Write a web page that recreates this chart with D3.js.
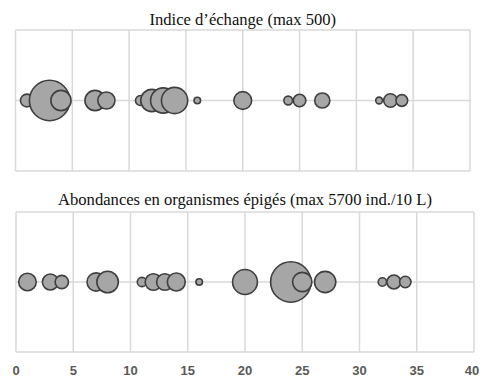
<!DOCTYPE html>
<html>
<head>
<meta charset="utf-8">
<script src="https://cdn.jsdelivr.net/npm/d3@7"></script>
<style>
  body { margin: 0; background: #fff; }
  .grid { stroke: #d9d9d9; stroke-width: 1.5; fill: none; }
  .bubble { fill: #a6a6a6; stroke: #3f3f3f; stroke-width: 1.6; }
  .title { font-family: "Liberation Serif", serif; font-size: 16.6px; fill: #111; }
  .tick-label { font-family: "Liberation Sans", Arial, sans-serif; font-weight: bold; font-size: 13px; fill: #595959; }
</style>
</head>
<body>
<svg id="chart" width="485" height="378"></svg>
<script>
// Data
const positions = [1, 3, 4, 7, 8, 11, 12, 13, 14, 16, 20, 24, 25, 27, 32, 33, 34];
const echangeValues = [50, 500, 125, 125, 90, 31, 151, 195, 211, 13, 97, 23, 48, 70, 14, 56, 42];
const abondanceValues = [1070, 885, 620, 1170, 1610, 305, 950, 950, 1120, 150, 2160, 5700, 1300, 1580, 245, 680, 450];
const xTicks = [0, 5, 10, 15, 20, 25, 30, 35, 40];

const svg = d3.select("#chart");

const panels = [
    { title: "Indice d\u2019échange (max 500)", values: echangeValues, max: 500,
      left: 15.5, right: 470, top: 30, bottom: 171, titleY: 25 },
    { title: "Abondances en organismes épigés (max 5700 ind./10 L)", values: abondanceValues, max: 5700,
      left: 16, right: 474, top: 212, bottom: 352, titleY: 205 }
];

panels.forEach(p => {
    const x = d3.scaleLinear().domain([0, 40]).range([p.left, p.right]);
    const y = d3.scaleLinear().domain([-1, 1]).range([p.bottom, p.top]);
    const r = d3.scaleSqrt().domain([0, p.max]).range([0, 20.2]);
    const g = svg.append("g");

    // vertical gridlines
    g.selectAll(".vgrid")
        .data(xTicks)
        .join("line")
        .attr("class", "grid")
        .attr("x1", d => x(d)).attr("x2", d => x(d))
        .attr("y1", p.top).attr("y2", p.bottom);

    // horizontal gridlines (top, middle, bottom)
    g.selectAll(".hgrid")
        .data([-1, 0, 1])
        .join("line")
        .attr("class", "grid")
        .attr("x1", p.left).attr("x2", p.right)
        .attr("y1", d => y(d)).attr("y2", d => y(d));

    // bubbles
    g.selectAll(".bubble")
        .data(positions.map((pos, i) => ({ pos, v: p.values[i] })))
        .join("circle")
        .attr("class", "bubble")
        .attr("cx", d => x(d.pos))
        .attr("cy", y(0))
        .attr("r", d => r(d.v));

    // title
    svg.append("text")
        .attr("class", "title")
        .attr("x", (p.left + p.right) / 2)
        .attr("y", p.titleY)
        .attr("text-anchor", "middle")
        .text(p.title);

    p.x = x;
});

// tick labels under the bottom panel
const xBottom = panels[1].x;
svg.selectAll(".tick-label")
    .data(xTicks)
    .join("text")
    .attr("class", "tick-label")
    .attr("x", d => Math.min(xBottom(d), 472))
    .attr("y", 375)
    .attr("text-anchor", "middle")
    .text(d => d);
</script>
</body>
</html>
